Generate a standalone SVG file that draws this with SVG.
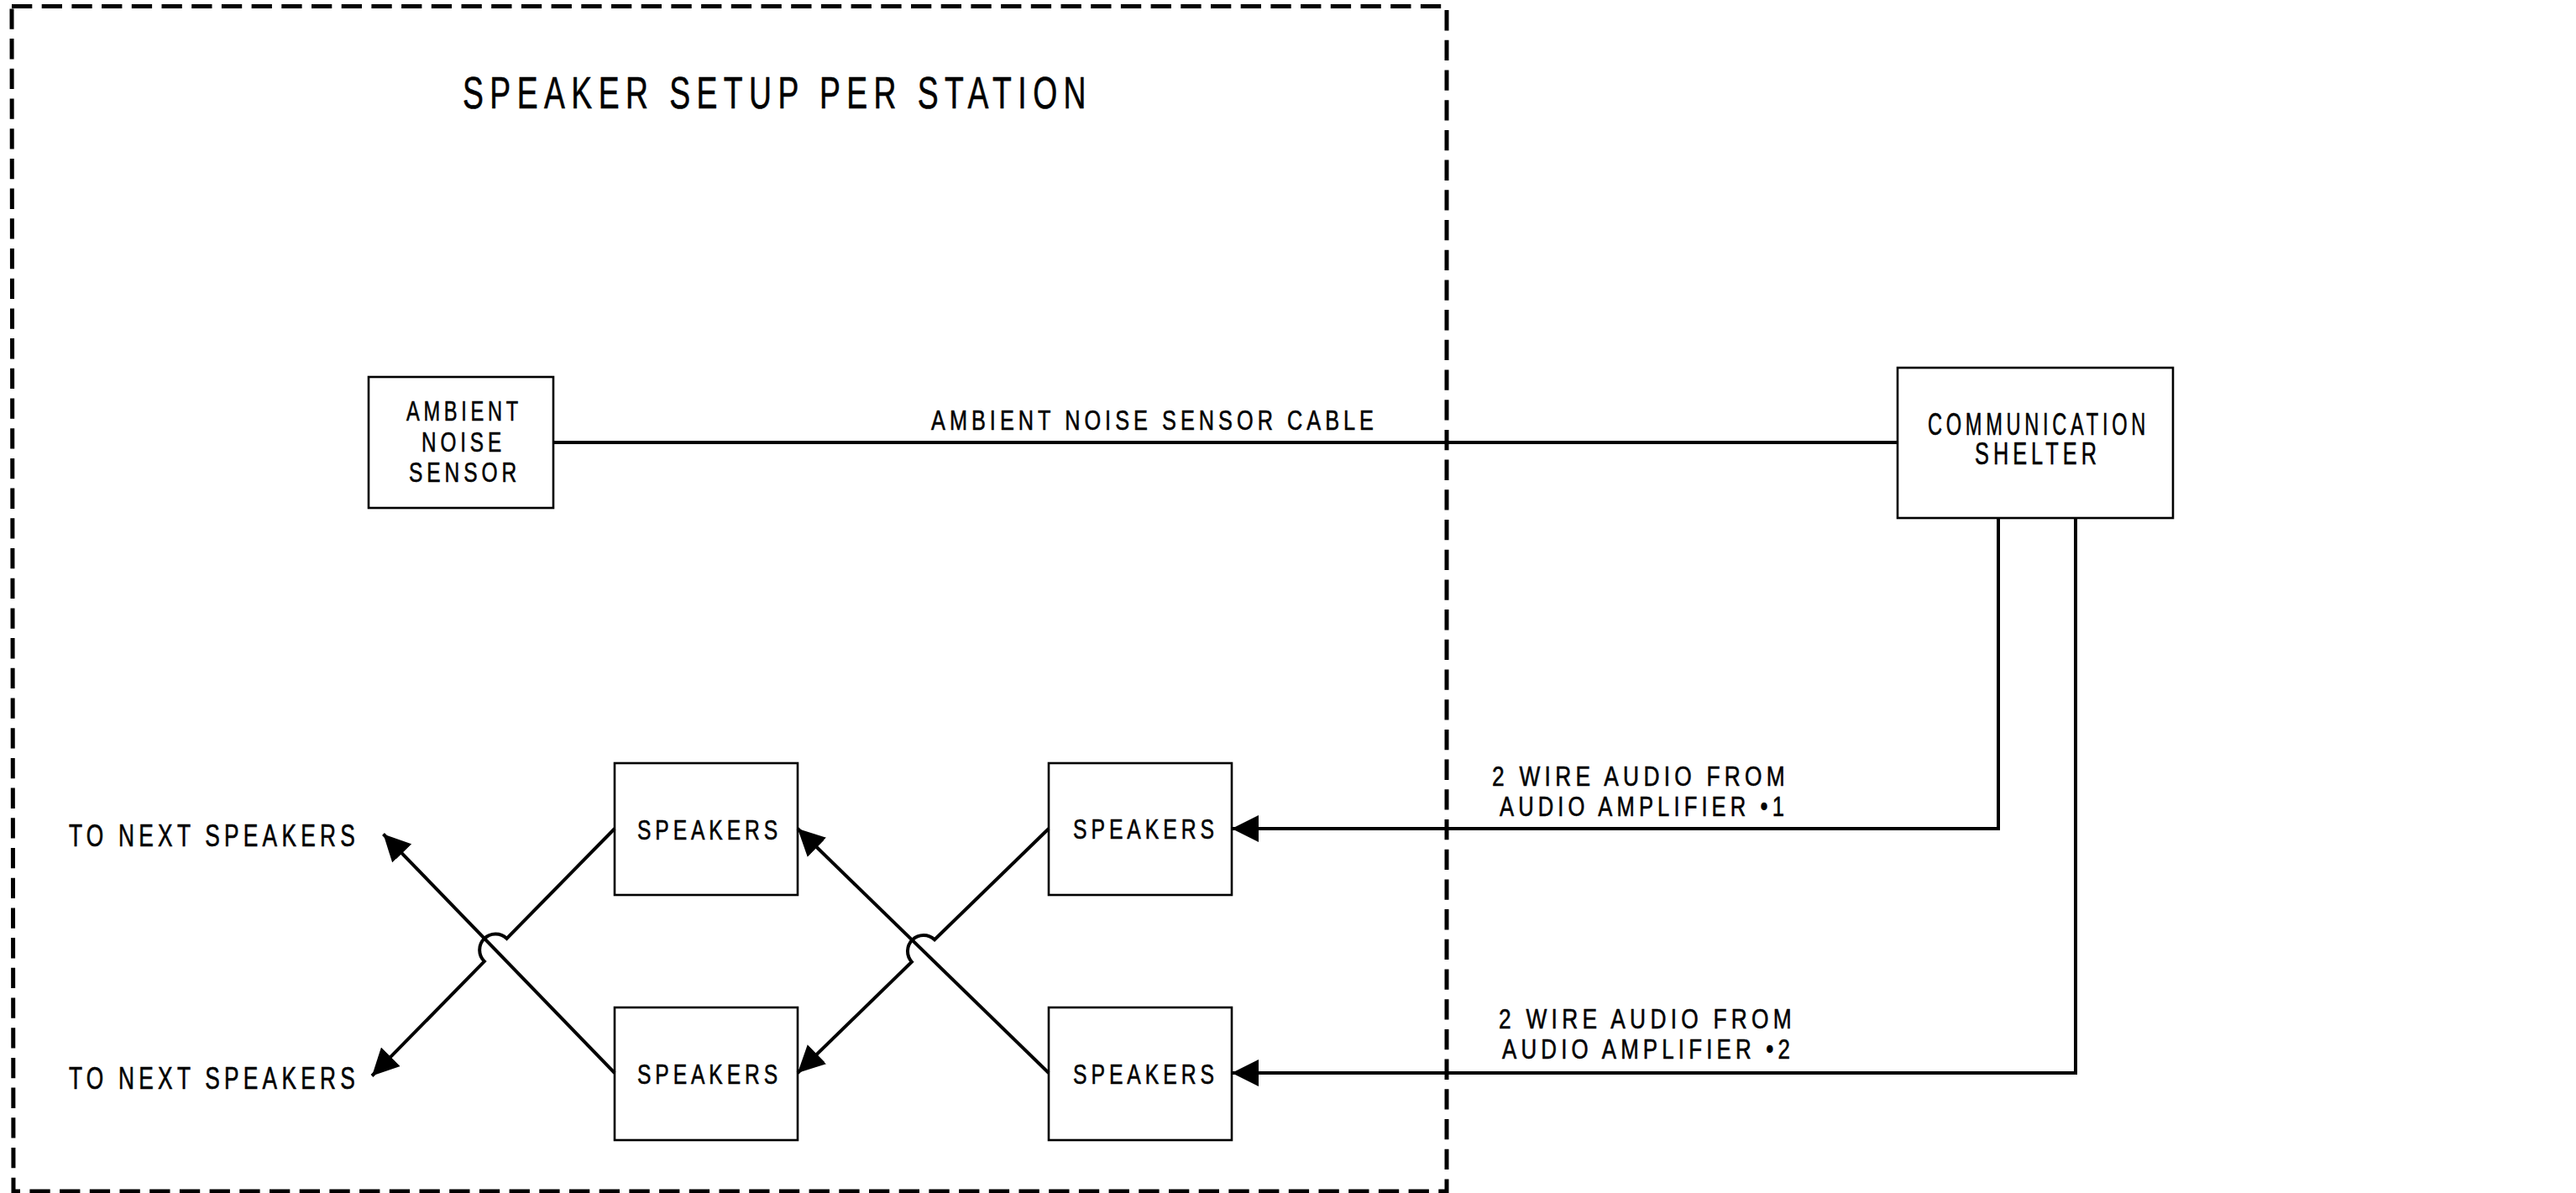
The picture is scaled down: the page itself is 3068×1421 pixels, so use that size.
<svg xmlns="http://www.w3.org/2000/svg" width="3068" height="1421" viewBox="0 0 3068 1421">
<style>
  .bg { fill: #ffffff; }
  .box { fill: none; stroke: #000; stroke-width: 2.6; }
  .wire { fill: none; stroke: #000; stroke-width: 4; }
  .frame { fill: none; stroke: #000; stroke-width: 5; stroke-dasharray: 24.3 11.4; }
  text { font-family: "Liberation Sans", Arial, sans-serif; fill: #000; stroke: #000; stroke-width: 0.6; letter-spacing: 0.2em; }
  .t24 { font-size: 33.5px; }
  .t26 { font-size: 36px; }
  .t27 { font-size: 37px; }
  .t39 { font-size: 54px; }
</style>
<defs>
  <marker id="arrow" markerUnits="userSpaceOnUse" markerWidth="32" markerHeight="32" viewBox="0 0 29 29" refX="29" refY="14.5" orient="auto">
    <path d="M0,0 L29,14.5 L0,29 Z" fill="#000"/>
  </marker>
</defs>
<rect class="bg" x="0" y="0" width="3068" height="1421"/>

<g id="station-frame">
  <path class="frame" d="M14,7.5 H1723 V1419 H16 Z"/>
  <text class="t39" x="551" y="129" textLength="750" lengthAdjust="spacingAndGlyphs">SPEAKER SETUP PER STATION</text>
</g>

<g id="connectors">
  <line id="cable" class="wire" x1="659" y1="527" x2="2260" y2="527"/>
  <path id="audio1" class="wire" d="M2380,617 V987 H1467" marker-end="url(#arrow)"/>
  <path id="audio2" class="wire" d="M2472,617 V1278 H1467" marker-end="url(#arrow)"/>
  <path id="rt-to-lb" class="wire" d="M1249,987 L1113.1,1119.25 A19,19 0 0 0 1085.9,1145.75 L950,1278" marker-end="url(#arrow)"/>
  <path id="rb-to-lt" class="wire" d="M1249,1278 L950,987" marker-end="url(#arrow)"/>
  <path id="lt-to-next2" class="wire" d="M732,987 L603.5,1117.9 A19,19 0 0 0 576.9,1145.1 L443,1281.5" marker-end="url(#arrow)"/>
  <path id="lb-to-next1" class="wire" d="M732,1278 L456.5,993.5" marker-end="url(#arrow)"/>
  <text class="t24" x="1109" y="512" textLength="532" lengthAdjust="spacingAndGlyphs">AMBIENT NOISE SENSOR CABLE</text>
  <text class="t24" x="1777" y="936" textLength="354" lengthAdjust="spacingAndGlyphs">2 WIRE AUDIO FROM</text>
  <text class="t24" x="1786" y="972" textLength="344" lengthAdjust="spacingAndGlyphs">AUDIO AMPLIFIER •1</text>
  <text class="t24" x="1785" y="1225" textLength="354" lengthAdjust="spacingAndGlyphs">2 WIRE AUDIO FROM</text>
  <text class="t24" x="1789" y="1261" textLength="348" lengthAdjust="spacingAndGlyphs">AUDIO AMPLIFIER •2</text>
  <text class="t26" x="82" y="1008" textLength="346" lengthAdjust="spacingAndGlyphs">TO NEXT SPEAKERS</text>
  <text class="t26" x="82" y="1297" textLength="346" lengthAdjust="spacingAndGlyphs">TO NEXT SPEAKERS</text>
</g>

<g id="ambient-noise-sensor">
  <rect class="box" x="439" y="449" width="220" height="156"/>
  <text class="t24" x="484" y="501" textLength="138" lengthAdjust="spacingAndGlyphs">AMBIENT</text>
  <text class="t24" x="502" y="538" textLength="100" lengthAdjust="spacingAndGlyphs">NOISE</text>
  <text class="t24" x="487" y="574" textLength="133" lengthAdjust="spacingAndGlyphs">SENSOR</text>
</g>

<g id="communication-shelter">
  <rect class="box" x="2260" y="438" width="328" height="179"/>
  <text class="t27" x="2296" y="518" textLength="264" lengthAdjust="spacingAndGlyphs">COMMUNICATION</text>
  <text class="t27" x="2352" y="553" textLength="150" lengthAdjust="spacingAndGlyphs">SHELTER</text>
</g>

<g id="speakers-left-top">
  <rect class="box" x="732" y="909" width="218" height="157"/>
  <text class="t24" x="759" y="1000" textLength="172" lengthAdjust="spacingAndGlyphs">SPEAKERS</text>
</g>
<g id="speakers-left-bottom">
  <rect class="box" x="732" y="1200" width="218" height="158"/>
  <text class="t24" x="759" y="1291" textLength="172" lengthAdjust="spacingAndGlyphs">SPEAKERS</text>
</g>
<g id="speakers-right-top">
  <rect class="box" x="1249" y="909" width="218" height="157"/>
  <text class="t24" x="1278" y="999" textLength="173" lengthAdjust="spacingAndGlyphs">SPEAKERS</text>
</g>
<g id="speakers-right-bottom">
  <rect class="box" x="1249" y="1200" width="218" height="158"/>
  <text class="t24" x="1278" y="1291" textLength="173" lengthAdjust="spacingAndGlyphs">SPEAKERS</text>
</g>
</svg>
